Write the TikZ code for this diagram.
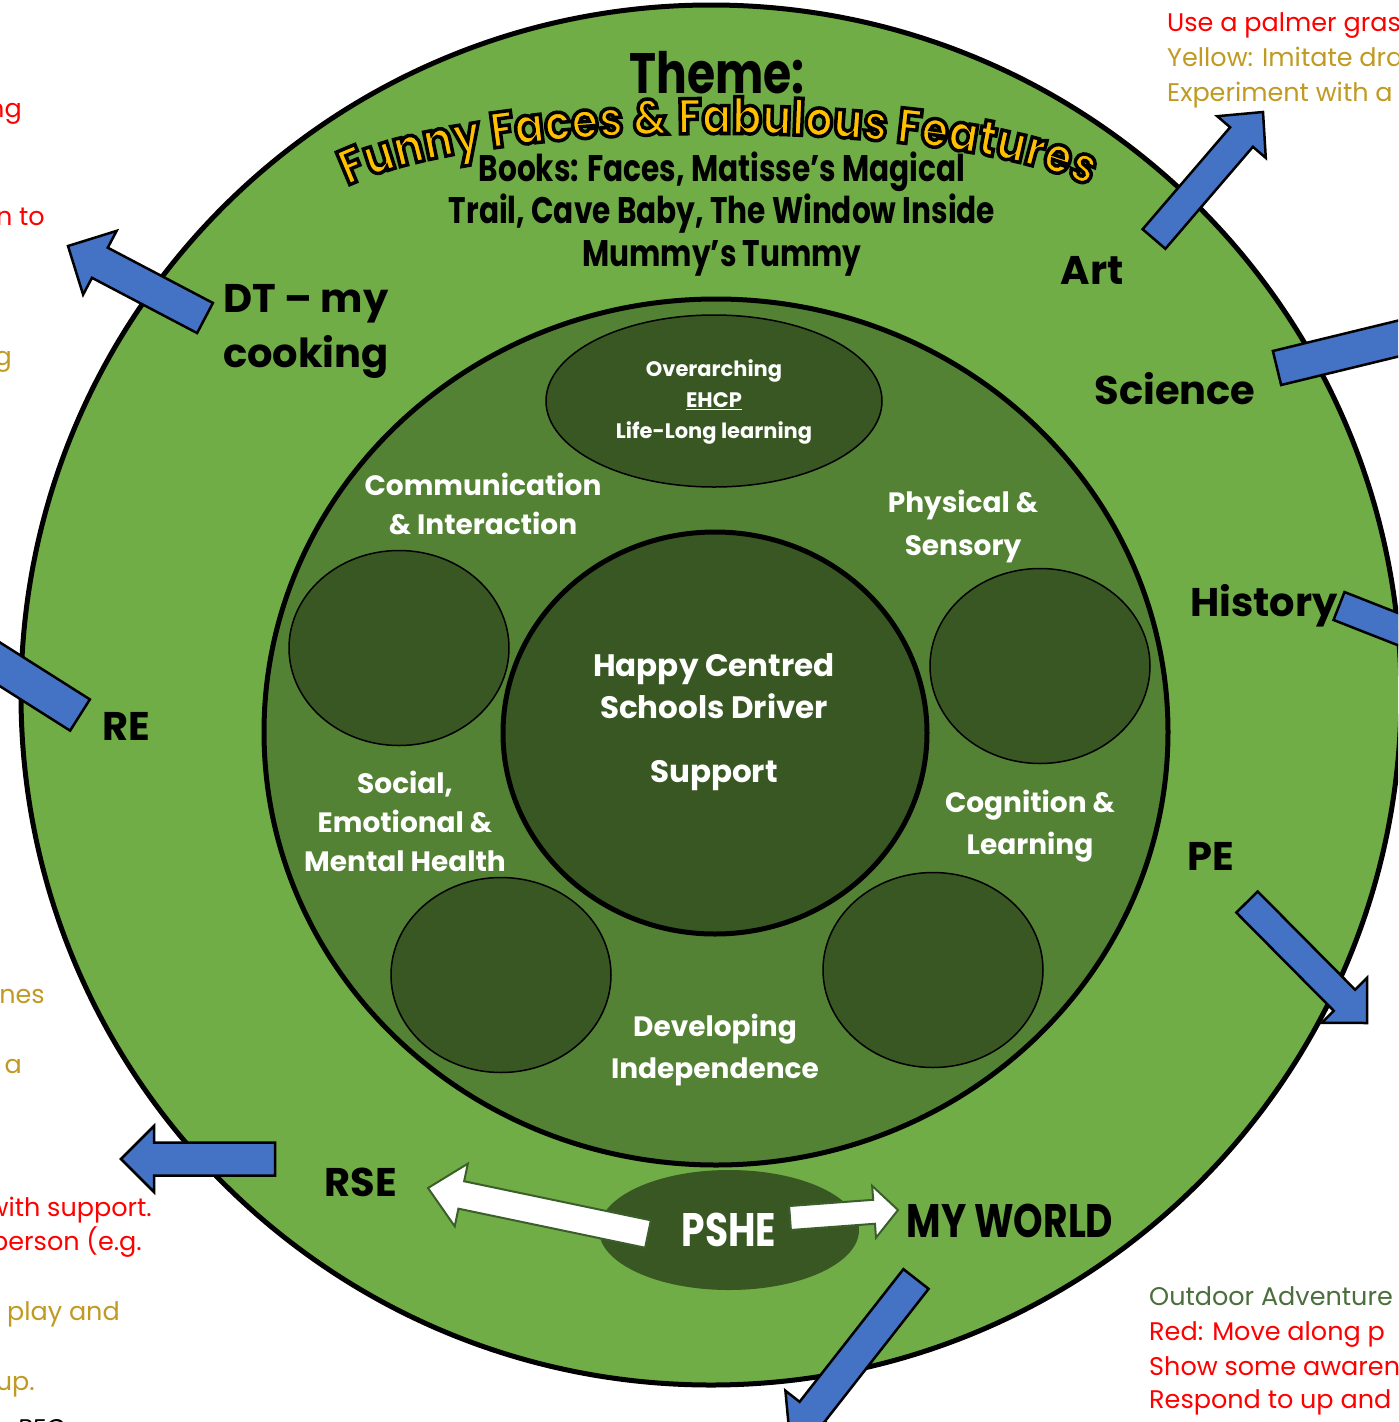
\documentclass[tikz,border=0pt]{standalone}
\usepackage{fontspec}
\setmainfont{Poppins}
\newfontfamily\narrowfont[FakeStretch=0.8]{Poppins}
\newfontfamily\titlefamily[FakeBold=7, FakeStretch=0.88]{Poppins}
\usetikzlibrary{calc,shapes.geometric,decorations.text}

\definecolor{ringgreen}{HTML}{70AD47}
\definecolor{midgreen}{HTML}{548235}
\definecolor{darkgreen}{HTML}{385723}
\definecolor{arrowblue}{HTML}{4472C4}
\definecolor{arrowedge}{HTML}{3B5E2B}
\definecolor{redtext}{HTML}{FF0000}
\definecolor{goldtext}{HTML}{C09A22}
\definecolor{outdoorgreen}{HTML}{4A6E3C}

% yellow letters with a black rim
\newcommand\outlined[1]{\special{pdf:bcolor [1 0.753 0] [0 0 0]}#1\special{pdf:ecolor}}

% block arrow: style, tail, tip, half shaft, half head, head length
\newcommand\blockarrow[6]{%
  \coordinate (neck) at ($(#3)!#6!(#2)$);
  \draw[#1] ($(#2)!#4!90:(#3)$) -- ($(neck)!#4!90:(#3)$) -- ($(neck)!#5!90:(#3)$) -- (#3)
    -- ($(neck)!#5!-90:(#3)$) -- ($(neck)!#4!-90:(#3)$) -- ($(#2)!#4!-90:(#3)$) -- cycle;
}

\begin{document}
\begin{tikzpicture}[x=1pt, y=-1pt,
    subject/.style={font=\fontsize{40}{55}\selectfont\bfseries, align=center, inner sep=0pt},
    strand/.style={font=\fontsize{28}{39}\selectfont\bfseries, text=white, align=center, inner sep=0pt},
    pod/.style={ellipse, draw=black, line width=1.5pt, fill=darkgreen, inner sep=0pt},
    note/.style={font=\fontsize{25.5}{35}\selectfont, inner sep=0pt},
    bluearrow/.style={fill=arrowblue, draw=black, line width=2.5pt},
    whitearrow/.style={fill=white, draw=arrowedge, line width=2pt}]

  \clip (0,0) rectangle (1398,1422);
  \fill[white] (0,0) rectangle (1398,1422);

  % draw rings
  \draw[fill=ringgreen, line width=5pt] (711,695) circle [radius=690];
  \draw[fill=midgreen, line width=5pt] (716,732) ellipse [x radius=452, y radius=433];

  % draw pods
  \node[pod, minimum width=336pt, minimum height=172pt] (ehcp pod) at (714,401) {};
  \foreach \name/\pos in {ci/{399,648}, ps/{1040,666}, semh/{501,975}, cl/{933,970}}
    \node[pod, minimum width=220pt, minimum height=195pt] (\name pod) at (\pos) {};

  % draw hub and pshe
  \node[ellipse, draw, line width=5pt, fill=darkgreen, minimum width=424pt, minimum height=402pt] (hub) at (715,733) {};
  \node[ellipse, fill=darkgreen, minimum width=260pt, minimum height=120pt, text=white,
        font=\narrowfont\fontsize{47}{50}\selectfont\bfseries] (pshe) at (729,1230) {PSHE};

  % draw arrows
  \coordinate (dt tail) at (205,318);   \coordinate (dt tip) at (68,246);
  \coordinate (art tail) at (1154,239); \coordinate (art tip) at (1263,112);
  \coordinate (sci tail) at (1277,368); \coordinate (sci tip) at (1491,316);
  \coordinate (his tail) at (1339,606); \coordinate (his tip) at (1525,679);
  \coordinate (re tail) at (80,715);    \coordinate (re tip) at (-89,608);
  \coordinate (pe tail) at (1247,902);  \coordinate (pe tip) at (1367,1023);
  \coordinate (rse tail) at (275,1159); \coordinate (rse tip) at (121,1159);
  \coordinate (mw tail) at (916,1279);  \coordinate (mw tip) at (790,1440);
  \coordinate (left tail) at (648,1234);  \coordinate (left tip) at (428,1188);
  \coordinate (right tail) at (790,1218); \coordinate (right tip) at (898,1210);

  \blockarrow{bluearrow}{dt tail}{dt tip}{17pt}{36pt}{36pt}
  \blockarrow{bluearrow}{art tail}{art tip}{15pt}{32pt}{33pt}
  \blockarrow{bluearrow}{sci tail}{sci tip}{17.5pt}{36pt}{36pt}
  \blockarrow{bluearrow}{his tail}{his tip}{15pt}{32pt}{33pt}
  \blockarrow{bluearrow}{re tail}{re tip}{18.5pt}{36pt}{36pt}
  \blockarrow{bluearrow}{pe tail}{pe tip}{15pt}{32pt}{32pt}
  \blockarrow{bluearrow}{rse tail}{rse tip}{16.5pt}{33pt}{33pt}
  \blockarrow{bluearrow}{mw tail}{mw tip}{16pt}{34pt}{36pt}
  \blockarrow{whitearrow}{left tail}{left tip}{14pt}{32pt}{34pt}
  \blockarrow{whitearrow}{right tail}{right tip}{12pt}{26pt}{24pt}

  % draw theme
  \node[font=\narrowfont\fontsize{57}{60}\selectfont\bfseries] (theme) at (717,73) {Theme:};
  \coordinate (title start) at (336,192);
  \coordinate (title end) at (1100,192);
  \path[decorate, decoration={text effects along path, text={Funny Faces {\&} Fabulous Features},
      text align=center, text effects/.cd, text along path,
      characters={font=\titlefamily\fontsize{50}{50}\selectfont\bfseries}, character command=\outlined}]
      (title start) .. controls (470,114) and (966,114) .. (title end);
  \node[font=\narrowfont\fontsize{37}{42.5}\selectfont\bfseries, align=center] (books) at (722,214)
    {Books: Faces, Matisse’s Magical\\Trail, Cave Baby, The Window Inside\\Mummy’s Tummy};

  % draw subjects
  \node[subject] (dt) at (306,331) {DT – my\\cooking};
  \node[subject] (art) at (1092,270) {Art};
  \node[subject] (science) at (1175,389) {Science};
  \node[subject] (history) at (1264,606) {History};
  \node[subject] (re) at (126,726) {RE};
  \node[subject] (pe) at (1211,856) {PE};
  \node[subject] (rse) at (361,1182) {RSE};
  \node[font=\narrowfont\fontsize{47}{50}\selectfont\bfseries, inner sep=0pt] (my world) at (1010,1221) {MY WORLD};

  % draw strands
  \node[font=\fontsize{21}{31}\selectfont\bfseries, text=white, align=center] (ehcp) at (714,402)
    {Overarching\\\underline{EHCP}\\Life-Long learning};
  \node[strand] (ci) at (483,504) {Communication\\\& Interaction};
  \node[strand, font=\fontsize{28}{43}\selectfont\bfseries] (ps) at (963,526) {Physical \&\\Sensory};
  \node[strand] (semh) at (405,821) {Social,\\Emotional \&\\Mental Health};
  \node[strand, font=\fontsize{28}{42}\selectfont\bfseries] (cl) at (1030,826) {Cognition \&\\Learning};
  \node[strand, font=\fontsize{28}{42}\selectfont\bfseries] (di) at (715,1050) {Developing\\Independence};
  \node[strand, font=\fontsize{31}{42}\selectfont\bfseries] (driver) at (714,722)
    {Happy Centred\\Schools Driver\\[22pt]Support};

  % draw notes
  \node[note, text=redtext, anchor=base west] (n1) at (1167,31) {Use a palmer gras};
  \node[note, text=goldtext, anchor=base west] (n2) at (1167,66) {Yellow: Imitate dra};
  \node[note, text=goldtext, anchor=base west] (n3) at (1167,101) {Experiment with a};
  \node[note, text=outdoorgreen, anchor=base west] (n4) at (1149,1305) {Outdoor Adventure};
  \node[note, text=redtext, anchor=base west] (n5) at (1149,1340) {Red: Move along p};
  \node[note, text=redtext, anchor=base west] (n6) at (1149,1375) {Show some awaren};
  \node[note, text=redtext, anchor=base west] (n7) at (1149,1408) {Respond to up and};
  \node[note, text=redtext, anchor=base east] (n8) at (22,117) {ng};
  \node[note, text=redtext, anchor=base east] (n9) at (45,225) {n to};
  \node[note, text=goldtext, anchor=base east] (n10) at (12,365) {g};
  \node[note, text=goldtext, anchor=base east] (n11) at (45,1003) {ines};
  \node[note, text=goldtext, anchor=base east] (n12) at (22,1073) {a};
  \node[note, text=redtext, anchor=base east] (n13) at (152,1216) {with support.};
  \node[note, text=redtext, anchor=base east] (n14) at (142,1250) {person (e.g.};
  \node[note, text=goldtext, anchor=base east] (n15) at (120,1320) {play and};
  \node[note, text=goldtext, anchor=base east] (n16) at (35,1390) {up.};
  \node[note, anchor=base east, font=\fontsize{25.5}{35}\selectfont\itshape] (n17) at (78,1437) {o PECs};
\end{tikzpicture}
\end{document}
